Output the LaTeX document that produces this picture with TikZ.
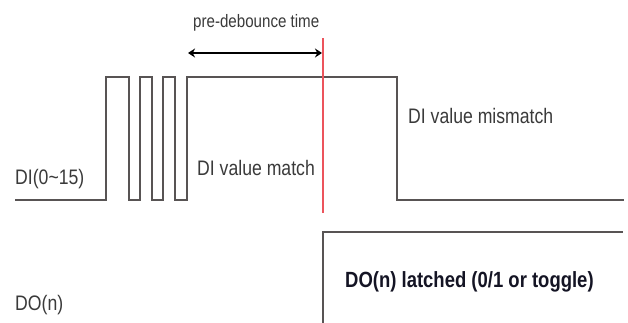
\documentclass[tikz,border=0pt]{standalone}
\usepackage{fontspec}
\setmainfont{Liberation Sans}[FakeStretch=0.84]
\usepackage{xcolor}
\usetikzlibrary{arrows.meta,positioning}
\definecolor{wavegray}{RGB}{88,84,84}
\definecolor{markred}{RGB}{236,84,92}
\definecolor{lblgray}{RGB}{58,58,58}
\definecolor{lblbold}{RGB}{20,20,36}

\begin{document}
\begin{tikzpicture}[x=1pt,y=-1pt,
  wave/.style={draw=wavegray, line width=1.6pt},
  lbl/.style={text=lblgray, inner sep=0pt, anchor=base west, font=\fontsize{21}{24}\selectfont}]
\useasboundingbox (0,0) rectangle (628,322);

% DI input with bounces
\path[wave] (15,200) -- (106,200) -- (106,77) -- (129,77) -- (129,200)
  -- (140,200) -- (140,77) -- (152,77) -- (152,200)
  -- (163,200) -- (163,77) -- (175,77) -- (175,200)
  -- (187,200) -- (187,77) -- (397,77) -- (397,200) -- (624,200);

% DO output
\path[wave] (323,324) -- (323,232) -- (623,232);

% latch instant
\path[draw=markred, line width=1.3pt] (323,38) -- (323,213);

\coordinate (tstart) at (188,53);
\coordinate (tend) at (322,53);
\path[draw, line width=1.5pt] [{Stealth[length=7pt,width=9pt]}-{Stealth[length=7pt,width=9pt]}] (tstart) -- (tend);
\node[lbl, font=\fontsize{18}{20}\selectfont] (pretime) at (193,27) {pre-debounce time};

\node[lbl] (di) at (15,184) {DI(0\textasciitilde15)};
\node[lbl] (dimatch) at (197,175) {DI value match};
\node[lbl] (dimismatch) at (408,123) {DI value mismatch};
\node[lbl] (do) at (15,310) {DO(n)};
\node[lbl, text=lblbold, font=\fontsize{22}{24}\bfseries] (dolatch) at (345,287) {DO(n) latched (0/1 or toggle)};

\end{tikzpicture}
\end{document}
